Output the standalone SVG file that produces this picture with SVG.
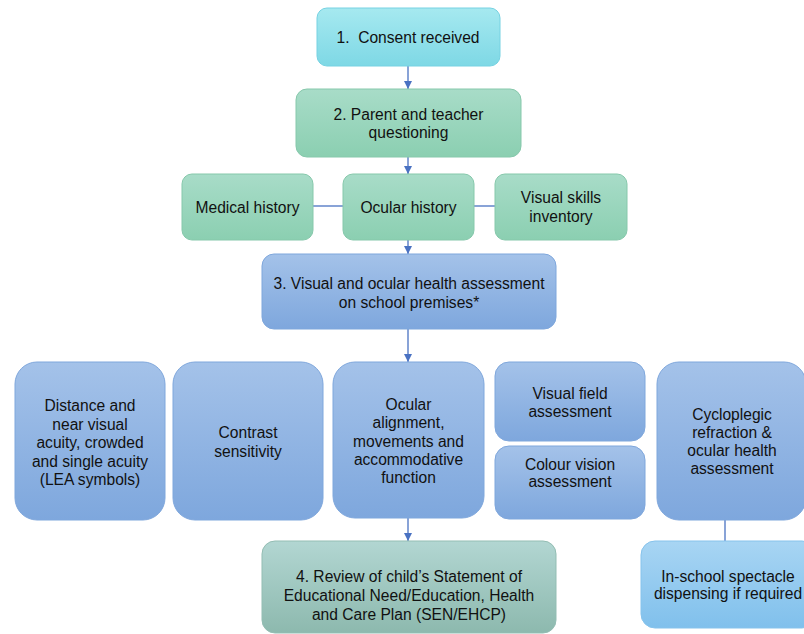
<svg xmlns="http://www.w3.org/2000/svg" width="804" height="634" viewBox="0 0 804 634">
<defs>
<linearGradient id="gCyan" x1="0" y1="0" x2="0" y2="1"><stop offset="0" stop-color="#a6e9f0"/><stop offset="1" stop-color="#7ed8e5"/></linearGradient>
<linearGradient id="gGreen" x1="0" y1="0" x2="0" y2="1"><stop offset="0" stop-color="#a8dcc8"/><stop offset="1" stop-color="#8bcfb1"/></linearGradient>
<linearGradient id="gBlue" x1="0" y1="0" x2="0" y2="1"><stop offset="0" stop-color="#a4c2e9"/><stop offset="1" stop-color="#7ea7dd"/></linearGradient>
<linearGradient id="gTeal" x1="0" y1="0" x2="0" y2="1"><stop offset="0" stop-color="#b2d6d2"/><stop offset="1" stop-color="#8db9ae"/></linearGradient>
<linearGradient id="gSky" x1="0" y1="0" x2="0" y2="1"><stop offset="0" stop-color="#a8d5f3"/><stop offset="1" stop-color="#80c0ec"/></linearGradient>
<marker id="arr" markerWidth="8" markerHeight="8" refX="8" refY="4" orient="auto" markerUnits="userSpaceOnUse">
<path d="M0,0 L8,4 L0,8 Z" fill="#4a72c2"/>
</marker>
</defs>
<style>
text{font-family:"Liberation Sans",Arial,Helvetica,sans-serif;font-size:15.6px;fill:#111;text-anchor:middle}
.cyan{fill:url(#gCyan);stroke:#76d2e2;stroke-width:1}
.green{fill:url(#gGreen);stroke:#86c8ab;stroke-width:1}
.blue{fill:url(#gBlue);stroke:#7fa7dc;stroke-width:1}
.teal{fill:url(#gTeal);stroke:#93bdb3;stroke-width:1}
.sky{fill:url(#gSky);stroke:#86c3ec;stroke-width:1}
.conn{stroke:#4a72c2;stroke-width:1.3;fill:none}
</style>
<g id="connectors">
<line class="conn" x1="408" y1="66" x2="408" y2="89" marker-end="url(#arr)"/>
<line class="conn" x1="408" y1="157" x2="408" y2="174" marker-end="url(#arr)"/>
<line class="conn" x1="313" y1="206" x2="343" y2="206"/>
<line class="conn" x1="474" y1="206" x2="495" y2="206"/>
<line class="conn" x1="408" y1="240" x2="408" y2="254" marker-end="url(#arr)"/>
<line class="conn" x1="408" y1="329" x2="408" y2="362" marker-end="url(#arr)"/>
<line class="conn" x1="408" y1="518" x2="408" y2="541" marker-end="url(#arr)"/>
<line class="conn" x1="725" y1="520" x2="725" y2="541"/>
</g>
<g id="n1"><rect class="cyan" x="317" y="8" width="183" height="58" rx="10"/><text x="408" y="43" xml:space="preserve">1.  Consent received</text></g>
<g id="n2"><rect class="green" x="296" y="89" width="225" height="68" rx="11"/><text x="408.5" y="120">2. Parent and teacher</text><text x="408.5" y="138">questioning</text></g>
<g id="medical"><rect class="green" x="182" y="174" width="131" height="66" rx="10"/><text x="247.5" y="213">Medical history</text></g>
<g id="ocular"><rect class="green" x="343" y="174" width="131" height="66" rx="10"/><text x="408.5" y="213">Ocular history</text></g>
<g id="skills"><rect class="green" x="495" y="174" width="132" height="66" rx="10"/><text x="561" y="203">Visual skills</text><text x="561" y="222">inventory</text></g>
<g id="n3"><rect class="blue" x="262" y="254" width="294" height="75" rx="12"/><text x="409" y="289">3. Visual and ocular health assessment</text><text x="409" y="308">on school premises*</text></g>
<g id="distance"><rect class="blue" x="15" y="362" width="150" height="158" rx="22"/><text x="90" y="411">Distance and</text><text x="90" y="429.5">near visual</text><text x="90" y="448">acuity, crowded</text><text x="90" y="466.5">and single acuity</text><text x="90" y="485">(LEA symbols)</text></g>
<g id="contrast"><rect class="blue" x="173" y="362" width="150" height="158" rx="22"/><text x="248" y="438">Contrast</text><text x="248" y="457">sensitivity</text></g>
<g id="alignment"><rect class="blue" x="333" y="362" width="151" height="156" rx="22"/><text x="408.5" y="410">Ocular</text><text x="408.5" y="428">alignment,</text><text x="408.5" y="446.5">movements and</text><text x="408.5" y="465">accommodative</text><text x="408.5" y="483">function</text></g>
<g id="field"><rect class="blue" x="495" y="362" width="150" height="79" rx="14"/><text x="570" y="399">Visual field</text><text x="570" y="417">assessment</text></g>
<g id="colour"><rect class="blue" x="495" y="446" width="150" height="73" rx="14"/><text x="570" y="470">Colour vision</text><text x="570" y="487">assessment</text></g>
<g id="cyclo"><rect class="blue" x="657" y="362" width="149" height="158" rx="22"/><text x="732" y="420">Cycloplegic</text><text x="732" y="438">refraction &amp;</text><text x="732" y="456">ocular health</text><text x="732" y="474">assessment</text></g>
<g id="n4"><rect class="teal" x="262" y="541" width="294" height="92" rx="13"/><text x="409" y="582">4. Review of child’s Statement of</text><text x="409" y="601">Educational Need/Education, Health</text><text x="409" y="620">and Care Plan (SEN/EHCP)</text></g>
<g id="spectacle"><rect class="sky" x="641" y="541" width="175" height="87" rx="14"/><text x="728" y="582">In-school spectacle</text><text x="728" y="599">dispensing if required</text></g>
</svg>
